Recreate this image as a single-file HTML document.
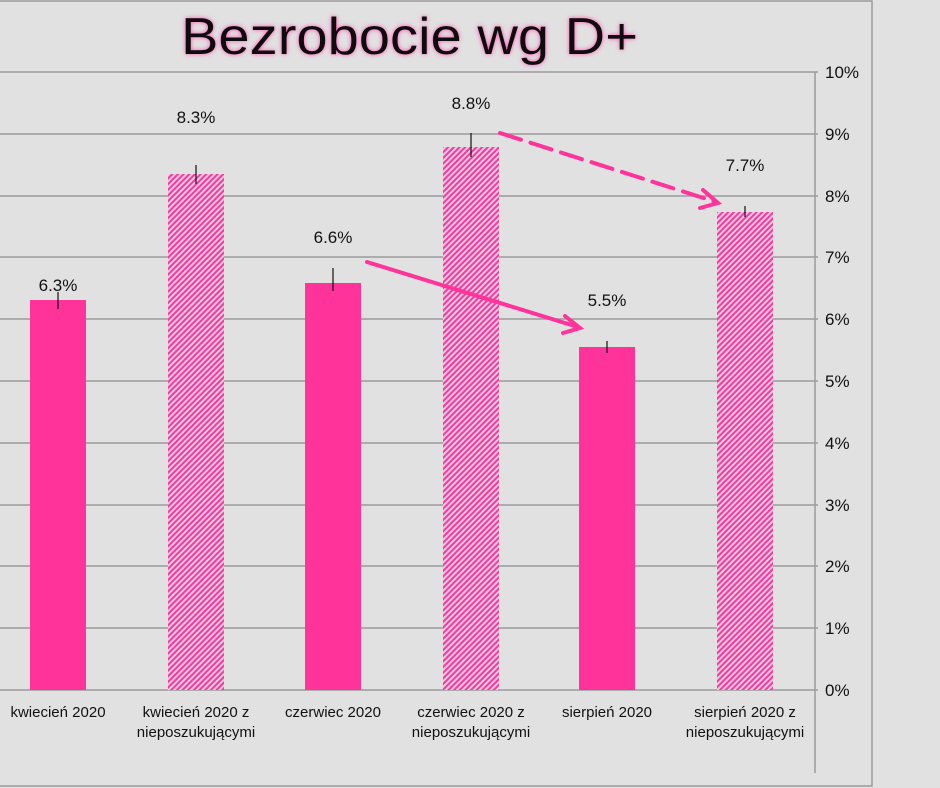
<!DOCTYPE html>
<html><head><meta charset="utf-8"><style>
body{margin:0;background:#e1e1e1;}
svg{display:block;font-family:"Liberation Sans",sans-serif;}
</style></head><body>
<svg width="940" height="788" viewBox="0 0 940 788">
<defs>
<pattern id="h" width="4" height="4" patternUnits="userSpaceOnUse" patternTransform="rotate(45)">
<rect width="4" height="4" fill="#f7c6e3"/><rect width="2" height="4" fill="#f03c9c"/>
</pattern>
<filter id="g" x="-10%" y="-30%" width="120%" height="160%"><feGaussianBlur in="SourceAlpha" stdDeviation="2.5" result="b"/><feFlood flood-color="#ff4fb0"/><feComposite in2="b" operator="in"/><feMerge><feMergeNode/><feMergeNode in="SourceGraphic"/></feMerge></filter>
</defs>
<rect x="0" y="0" width="940" height="788" fill="#e1e1e1"/>
<rect x="-1" y="1" width="873" height="785" fill="none" stroke="#9a9a9a" stroke-width="1.5"/>
<text x="181" y="54" font-size="52" textLength="457" lengthAdjust="spacingAndGlyphs" fill="#111" filter="url(#g)">Bezrobocie wg D+</text>
<g stroke="#9b9b9b" stroke-width="1.5">
<line x1="0" x2="818" y1="72" y2="72"/><line x1="0" x2="818" y1="134" y2="134"/><line x1="0" x2="818" y1="196" y2="196"/><line x1="0" x2="818" y1="257" y2="257"/><line x1="0" x2="818" y1="319" y2="319"/><line x1="0" x2="818" y1="381" y2="381"/><line x1="0" x2="818" y1="443" y2="443"/><line x1="0" x2="818" y1="505" y2="505"/><line x1="0" x2="818" y1="566" y2="566"/><line x1="0" x2="818" y1="628" y2="628"/><line x1="0" x2="818" y1="690" y2="690"/>
<line x1="815" x2="815" y1="72" y2="773"/>
</g>
<g font-size="17" fill="#111">
<text x="825" y="78">10%</text><text x="825" y="140">9%</text><text x="825" y="202">8%</text><text x="825" y="263">7%</text><text x="825" y="325">6%</text><text x="825" y="387">5%</text><text x="825" y="449">4%</text><text x="825" y="511">3%</text><text x="825" y="572">2%</text><text x="825" y="634">1%</text><text x="825" y="696">0%</text>
</g>
<rect x="30" y="300" width="56" height="390" fill="#ff3399"/>
<rect x="168" y="174" width="56" height="516" fill="url(#h)"/>
<rect x="305" y="283" width="56" height="407" fill="#ff3399"/>
<rect x="443" y="147" width="56" height="543" fill="url(#h)"/>
<rect x="579" y="347" width="56" height="343" fill="#ff3399"/>
<rect x="717" y="212" width="56" height="478" fill="url(#h)"/>
<g stroke="#111" stroke-width="1.2">
<line x1="58" x2="58" y1="292" y2="309"/><line x1="196" x2="196" y1="165" y2="184"/><line x1="333" x2="333" y1="268" y2="291"/><line x1="471" x2="471" y1="133" y2="157"/><line x1="607" x2="607" y1="341" y2="353"/><line x1="745" x2="745" y1="206" y2="217"/>
</g>
<g font-size="17" fill="#111" text-anchor="middle">
<text x="58" y="291">6.3%</text><text x="196" y="123">8.3%</text><text x="333" y="243">6.6%</text><text x="471" y="109">8.8%</text><text x="607" y="306">5.5%</text><text x="745" y="171">7.7%</text>
</g>
<g font-size="15" fill="#111" text-anchor="middle">
<text x="58" y="717">kwiecień 2020</text>
<text x="196" y="717">kwiecień 2020 z</text><text x="196" y="737">nieposzukującymi</text>
<text x="333" y="717">czerwiec 2020</text>
<text x="471" y="717">czerwiec 2020 z</text><text x="471" y="737">nieposzukującymi</text>
<text x="607" y="717">sierpień 2020</text>
<text x="745" y="717">sierpień 2020 z</text><text x="745" y="737">nieposzukującymi</text>
</g>
<g stroke="#ff3399" stroke-width="4" fill="none" stroke-linecap="round">
<line x1="367" y1="262" x2="578" y2="327"/>
<polyline points="565,316 580,328 563,333"/>
<line x1="500" y1="133" x2="716" y2="202" stroke-dasharray="22,10"/>
<polyline points="703,190 718,203 700,208"/>
</g>
</svg>
</body></html>
